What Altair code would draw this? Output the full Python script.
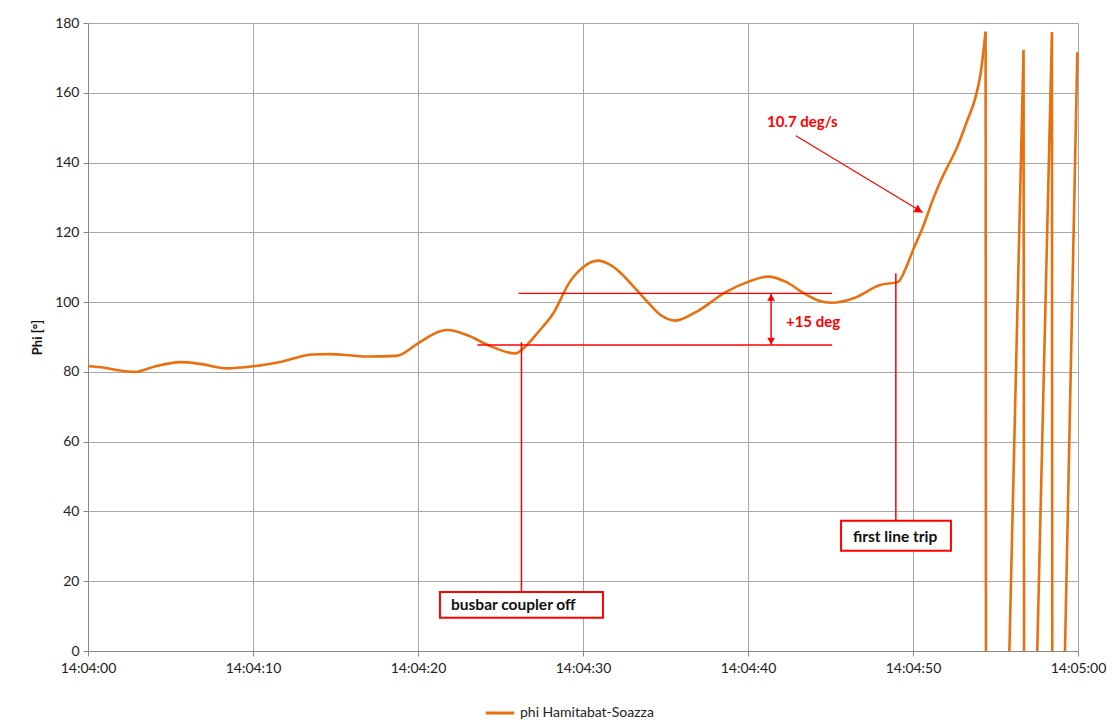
import altair as alt
import pandas as pd

BASE = pd.Timestamp("2015-03-31 14:04:00")

# --- smooth part of the series: seconds after 14:04:00 and phase angle (deg)
sec = [0.0, 1.0, 1.8, 2.85, 4.0, 5.6, 6.8, 8.4, 10.0, 11.8, 13.6, 14.7, 16.0, 16.9,
       18.7, 20.0, 21.3, 21.8, 23.0, 24.2, 25.9, 26.4, 27.3, 28.2, 29.2, 30.0, 30.9,
       31.6, 32.2, 33.0, 33.9, 34.7, 35.6, 36.9, 38.7, 40.0, 41.2, 42.3, 43.4, 44.3,
       45.1, 46.4, 48.0, 49.1, 49.6, 50.0, 50.6, 51.2, 51.7, 52.2, 52.6, 53.3, 53.8,
       54.1, 54.4]
phi = [81.6, 81.2, 80.5, 80.0, 81.5, 82.8, 82.3, 81.0, 81.6, 83.0, 85.0, 85.1, 84.7, 84.4,
       84.6, 88.2, 91.6, 92.0, 90.5, 87.8, 85.3, 86.8, 91.5, 96.8, 105.8, 110.0, 111.9,
       110.8, 108.7, 104.8, 100.1, 96.3, 94.7, 97.3, 103.0, 105.8, 107.3, 105.8, 102.5, 100.4,
       99.8, 101.1, 104.9, 105.8, 110.1, 114.9, 121.5, 129.3, 135.0, 139.8, 143.6, 152.2, 158.9,
       165.6, 177.5]

# --- pole-slip part (angle wraps past 180 deg; values below 0 are off the axis)
wrap_sec = [54.4, 54.42, 55.84, 56.7, 56.73, 57.53, 58.42, 58.44, 59.21, 59.96]
wrap_phi = [177.5, 0.0, 0.0, 172.3, 0.0, 0.0, 177.4, 0.0, 0.0, 171.6]
wrap_seg = [1, 1, 2, 2, 2, 3, 3, 3, 4, 4]

series_name = "phi Hamitabat-Soazza"

# --- annotation values
hline_start = [26.1, 23.6]
hline_end = [45.1, 45.1]
hline_val = [102.5, 87.7]

vline_sec = [26.27, 48.96]
vline_top = [88.5, 108.3]
vline_bottom = [16.9, 37.3]

box_labels = ["busbar coupler off", "first line trip"]
box_x0 = [21.33, 45.64]
box_x1 = [31.21, 52.30]
box_y0 = [9.5, 28.7]
box_y1 = [16.9, 37.3]
box_text_sec = [22.0, 46.36]
box_text_val = [13.2, 32.8]

dbl_arrow_sec = [41.4]
dbl_arrow_top = [102.5]
dbl_arrow_bottom = [87.7]

red_labels = ["10.7 deg/s", "+15 deg"]
red_label_sec = [41.15, 42.3]
red_label_val = [151.7, 94.4]

arrow_start = [42.9, 147.7]
arrow_end = [50.6, 125.7]

x_ticks = [0, 10, 20, 30, 40, 50, 60]
y_ticks = [0, 20, 40, 60, 80, 100, 120, 140, 160, 180]


def ts(s):
    return BASE + pd.to_timedelta(s, unit="s")


FONT = "Lato"
ORANGE = "#E8710F"
RED = "#FF0000"

df = pd.DataFrame({"t": [ts(s) for s in sec], "phi": phi, "series": series_name})
dw = pd.DataFrame({"t": [ts(s) for s in wrap_sec], "phi": wrap_phi, "seg": wrap_seg,
                   "series": series_name})

xdom = [ts(0).isoformat(), ts(60).isoformat()]
xscale = alt.Scale(domain=xdom, nice=False)
yscale = alt.Scale(domain=[0, 180], nice=False)

xenc = alt.X(
    "t:T", scale=xscale, title=None,
    axis=alt.Axis(format="%H:%M:%S", values=[ts(v).isoformat() for v in x_ticks],
                  grid=True, tickSize=5, labelPadding=5, labelFontSize=14,
                  labelFont=FONT, labelColor="#222", domainColor="#888", tickColor="#888",
                  gridColor="#a8a8a8", labelFlush=False),
)
yenc = alt.Y(
    "phi:Q", scale=yscale, title="Phi [°]",
    axis=alt.Axis(values=y_ticks, grid=True, tickSize=5, labelPadding=4, labelFontSize=14,
                  labelFont=FONT, labelColor="#222", domainColor="#888", tickColor="#888",
                  gridColor="#a8a8a8", titleFont=FONT, titleFontSize=13, titleFontWeight="bold",
                  titleColor="#111", titlePadding=10),
)

color = alt.Color("series:N", scale=alt.Scale(range=[ORANGE]),
                  legend=alt.Legend(title=None, orient="none", legendX=396, legendY=674,
                                    symbolType="stroke", symbolSize=800, symbolStrokeWidth=3,
                                    labelFont=FONT, labelFontSize=14, labelColor="#222"))

line = alt.Chart(df).mark_line(strokeWidth=2.6, interpolate="monotone").encode(
    x=xenc, y=yenc, color=color)

wrap = alt.Chart(dw).mark_line(strokeWidth=2.6, interpolate="linear").encode(
    x="t:T", y="phi:Q", detail="seg:N", color=color)

hl = pd.DataFrame({"a": [ts(s) for s in hline_start], "b": [ts(s) for s in hline_end],
                   "v": hline_val})
hrules = alt.Chart(hl).mark_rule(color=RED, strokeWidth=1.3).encode(
    x="a:T", x2="b:T", y="v:Q")

vl = pd.DataFrame({"t": [ts(s) for s in vline_sec], "top": vline_top, "bot": vline_bottom})
vrules = alt.Chart(vl).mark_rule(color=RED, strokeWidth=1.5).encode(
    x="t:T", y="top:Q", y2="bot:Q")

bx = pd.DataFrame({"x0": [ts(s) for s in box_x0], "x1": [ts(s) for s in box_x1],
                   "y0": box_y0, "y1": box_y1})
boxes = alt.Chart(bx).mark_rect(fill="white", stroke=RED, strokeWidth=2).encode(
    x="x0:T", x2="x1:T", y="y0:Q", y2="y1:Q")

bt = pd.DataFrame({"t": [ts(s) for s in box_text_sec], "v": box_text_val, "label": box_labels})
btext = alt.Chart(bt).mark_text(align="left", baseline="middle", font=FONT, fontSize=15.5,
                                fontWeight="bold", color="#111").encode(
    x="t:T", y="v:Q", text="label:N")

da = pd.DataFrame({"t": [ts(s) for s in dbl_arrow_sec], "top": dbl_arrow_top,
                   "bot": dbl_arrow_bottom})
darule = alt.Chart(da).mark_rule(color=RED, strokeWidth=1.5).encode(
    x="t:T", y="top:Q", y2="bot:Q")
da_up = alt.Chart(da).mark_point(shape="triangle-up", filled=True, color=RED, size=60,
                                 opacity=1, yOffset=4).encode(x="t:T", y="top:Q")
da_dn = alt.Chart(da).mark_point(shape="triangle-down", filled=True, color=RED, size=60,
                                 opacity=1, yOffset=-4).encode(x="t:T", y="bot:Q")

rt = pd.DataFrame({"t": [ts(s) for s in red_label_sec], "v": red_label_val, "label": red_labels})
rtext = alt.Chart(rt).mark_text(align="left", baseline="middle", font=FONT, fontSize=15,
                                fontWeight="bold", color=RED).encode(
    x="t:T", y="v:Q", text="label:N")

ar = pd.DataFrame({"a": [ts(arrow_start[0])], "av": [arrow_start[1]],
                   "b": [ts(arrow_end[0])], "bv": [arrow_end[1]]})
arrow_line = alt.Chart(ar).mark_rule(color=RED, strokeWidth=1.2).encode(
    x="a:T", y="av:Q", x2="b:T", y2="bv:Q")
arrow_head = alt.Chart(ar).mark_point(shape="triangle-right", filled=True, color=RED, size=80,
                                      opacity=1, angle=31, xOffset=-4, yOffset=-2).encode(
    x="b:T", y="bv:Q")

chart = alt.layer(
    line, wrap, hrules, vrules, boxes, btext, darule, da_up, da_dn, rtext, arrow_line, arrow_head
).properties(
    width=990, height=628,
    autosize=alt.AutoSizeParams(type="none"),
    padding={"left": 80, "top": 15, "right": 30, "bottom": 68},
).configure_view(
    stroke="#a8a8a8", strokeWidth=1
).configure(background="white")

chart.save("out.html", embed_options={"renderer": "svg", "actions": False})
